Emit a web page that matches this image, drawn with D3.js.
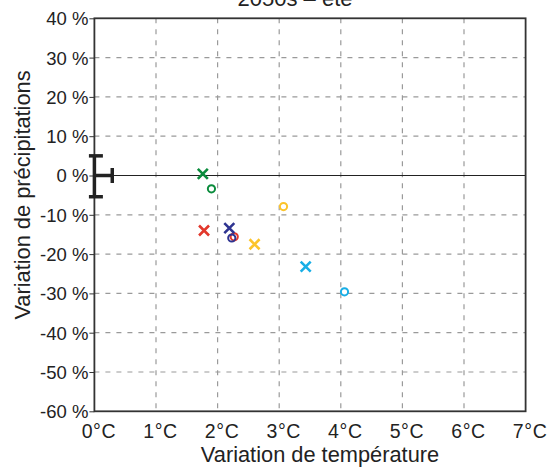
<!DOCTYPE html>
<html><head><meta charset="utf-8">
<script src="https://cdn.jsdelivr.net/npm/d3@7"></script>
<style>body{margin:0;background:#fff;} svg{display:block;font-family:"Liberation Sans",Arial,sans-serif;}</style>
</head><body>
<script>
const title = "2050s – été";
const xTicks = [0,1,2,3,4,5,6,7];
const yTicks = [40,30,20,10,0,-10,-20,-30,-40,-50,-60];
const pointColors = ["green","green","red","red","blue","blue","yellow","yellow","cyan","cyan"];
const pointShapes = ["x","o","x","o","x","o","x","o","x","o"];
const pointTemp = [1.76,1.90,1.78,2.27,2.19,2.23,2.60,3.07,3.43,4.06];
const pointPrecip = [0.4,-3.4,-14.0,-15.6,-13.4,-15.9,-17.5,-7.9,-23.2,-29.6];
const errTempMax = 0.29;
const errPrecip = [5.0,-5.4];
const colorMap = {green:"#0b8c3d",red:"#e2382c",blue:"#2e3491",yellow:"#fcc42a",cyan:"#18aee6"};

const W=549,H=471;
const svg=d3.select("body").append("svg").attr("width",W).attr("height",H);
const x=d3.scaleLinear().domain([0,7]).range([94.4,525.6]);
const y=d3.scaleLinear().domain([-60,40]).range([411.3,18.3]);

// grid
svg.append("g").selectAll("line").data(xTicks.filter(d=>d>0&&d<7)).join("line")
 .attr("x1",d=>x(d)).attr("x2",d=>x(d)).attr("y1",y(40)).attr("y2",y(-60))
 .attr("stroke","#9a9a9a").attr("stroke-width",1.2).attr("stroke-dasharray","5,6");
svg.append("g").selectAll("line").data(yTicks.filter(d=>d!==0&&d>-60&&d<40)).join("line")
 .attr("x1",x(0)).attr("x2",x(7)).attr("y1",d=>y(d)).attr("y2",d=>y(d))
 .attr("stroke","#9a9a9a").attr("stroke-width",1.2).attr("stroke-dasharray","5,6");
// zero line
svg.append("line").attr("x1",x(0)).attr("x2",x(7)).attr("y1",y(0)).attr("y2",y(0)).attr("stroke","#222").attr("stroke-width",1.2);
// frame
svg.append("rect").attr("x",x(0)).attr("y",y(40)).attr("width",x(7)-x(0)).attr("height",y(-60)-y(40))
 .attr("fill","none").attr("stroke","#333").attr("stroke-width",1.8);

// y axis
const ya=d3.axisLeft(y).tickValues(yTicks).tickSize(5).tickFormat(d=>d+" %");
const gy=svg.append("g").attr("transform",`translate(${x(0)},0)`).call(ya);
gy.select(".domain").remove();
gy.selectAll("line").attr("stroke","#333");
gy.selectAll("text").attr("font-size",18.5).attr("fill","#222").attr("x",-6).attr("dy","0.35em");
// x axis
const xa=d3.axisBottom(x).tickValues(xTicks).tickSize(0).tickFormat(d=>d+"°C");
const gx=svg.append("g").attr("transform",`translate(0,${y(-60)})`).call(xa);
gx.select(".domain").remove();
gx.selectAll("text").attr("font-size",19.5).attr("letter-spacing","0.6px").attr("fill","#222").attr("dx",4).attr("y",27).attr("dy",0);

// labels
svg.append("text").attr("x",320).attr("y",462).attr("text-anchor","middle").attr("font-size",21.8).attr("fill","#222").text("Variation de température");
svg.append("text").attr("transform","translate(30,195) rotate(-90)").attr("text-anchor","middle").attr("font-size",21.8).attr("fill","#222").text("Variation de précipitations");
svg.append("text").attr("x",295).attr("y",6).attr("text-anchor","middle").attr("font-size",22).attr("fill","#222").text(title);

// error bars
const eb=svg.append("g").attr("stroke","#222").attr("stroke-width",3.5);
eb.append("line").attr("x1",x(0)).attr("x2",x(0)).attr("y1",y(errPrecip[0])).attr("y2",y(errPrecip[1]));
errPrecip.forEach(v=>eb.append("line").attr("x1",x(0)-5.5).attr("x2",x(0)+8.5).attr("y1",y(v)).attr("y2",y(v)));
eb.append("line").attr("x1",x(0)).attr("x2",x(errTempMax)).attr("y1",y(0)).attr("y2",y(0));
eb.append("line").attr("x1",x(errTempMax)).attr("x2",x(errTempMax)).attr("y1",y(0)-7.5).attr("y2",y(0)+7.5);

// points
const pts=pointTemp.map((t,i)=>({t,p:pointPrecip[i],c:colorMap[pointColors[i]],s:pointShapes[i]}));
const g=svg.append("g");
pts.forEach(d=>{
  const cx=x(d.t), cy=y(d.p);
  if(d.s==="x"){
    const r=5;
    g.append("path").attr("d",`M${cx-r},${cy-r}L${cx+r},${cy+r}M${cx-r},${cy+r}L${cx+r},${cy-r}`)
     .attr("stroke",d.c).attr("stroke-width",2.6).attr("fill","none");
  } else {
    g.append("circle").attr("cx",cx).attr("cy",cy).attr("r",3.6).attr("fill","none").attr("stroke",d.c).attr("stroke-width",2);
  }
});
</script>
</body></html>
